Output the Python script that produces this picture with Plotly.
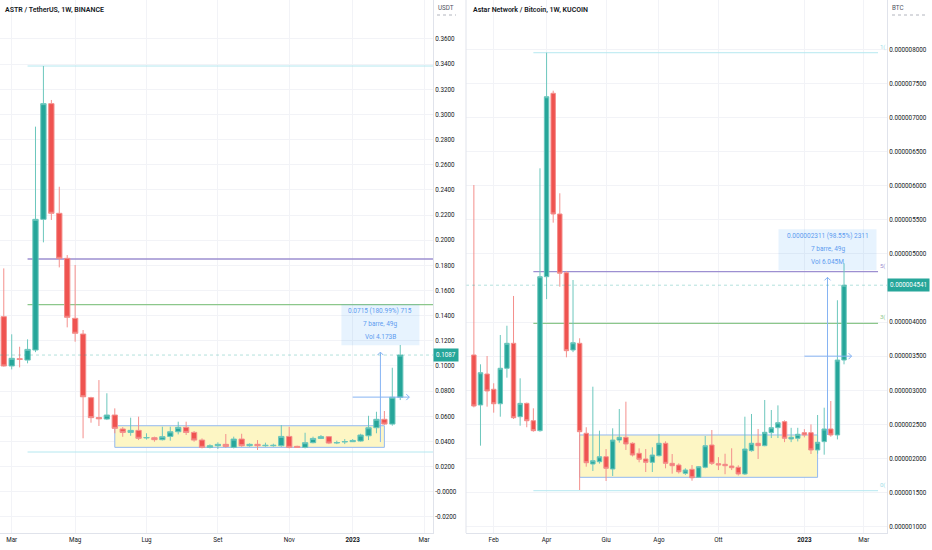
import pandas as pd
import plotly.graph_objects as go

# ASTR / TetherUS, 1W, BINANCE - weekly bars from 2022-02-28
usdt_start = "2022-02-28"
usdt_open = [0.1392, 0.1000, 0.1057, 0.1047, 0.1127, 0.2166, 0.3086, 0.2214, 0.1856, 0.1379,
             0.1254, 0.0748, 0.0590, 0.0578, 0.0610, 0.0499, 0.0472, 0.0488, 0.0428, 0.0430,
             0.0414, 0.0440, 0.0477, 0.0512, 0.0472, 0.0411, 0.0353, 0.0366, 0.0377, 0.0353,
             0.0419, 0.0366, 0.0377, 0.0366, 0.0366, 0.0366, 0.0440, 0.0361, 0.0353, 0.0390,
             0.0424, 0.0438, 0.0388, 0.0396, 0.0398, 0.0403, 0.0445, 0.0509, 0.0576, 0.0538,
             0.0751]
usdt_high = [0.1776, 0.1252, 0.1153, 0.1212, 0.2903, 0.3385, 0.3115, 0.2425, 0.1882, 0.1803,
             0.1286, 0.0755, 0.0888, 0.0783, 0.0663, 0.0514, 0.0589, 0.0597, 0.0465, 0.0438,
             0.0517, 0.0517, 0.0557, 0.0557, 0.0483, 0.0424, 0.0377, 0.0393, 0.0459, 0.0438,
             0.0461, 0.0385, 0.0411, 0.0390, 0.0382, 0.0530, 0.0517, 0.0366, 0.0469, 0.0438,
             0.0451, 0.0443, 0.0406, 0.0419, 0.0419, 0.0461, 0.0604, 0.0636, 0.0642, 0.0986,
             0.1167]
usdt_low = [0.0995, 0.0973, 0.0989, 0.1021, 0.1110, 0.1983, 0.2161, 0.1784, 0.1307, 0.1193,
            0.0425, 0.0549, 0.0523, 0.0570, 0.0465, 0.0437, 0.0445, 0.0411, 0.0415, 0.0398,
            0.0408, 0.0406, 0.0456, 0.0451, 0.0398, 0.0345, 0.0345, 0.0340, 0.0350, 0.0345,
            0.0358, 0.0358, 0.0332, 0.0358, 0.0358, 0.0358, 0.0345, 0.0348, 0.0345, 0.0385,
            0.0419, 0.0379, 0.0379, 0.0379, 0.0395, 0.0398, 0.0411, 0.0465, 0.0530, 0.0525,
            0.0729]
usdt_close = [0.1000, 0.1061, 0.1053, 0.1132, 0.2166, 0.3086, 0.2214, 0.1856, 0.1387, 0.1260,
              0.0755, 0.0589, 0.0580, 0.0610, 0.0504, 0.0472, 0.0488, 0.0425, 0.0431, 0.0414,
              0.0438, 0.0477, 0.0512, 0.0472, 0.0411, 0.0353, 0.0366, 0.0377, 0.0360, 0.0419,
              0.0366, 0.0377, 0.0366, 0.0369, 0.0369, 0.0440, 0.0353, 0.0353, 0.0390, 0.0424,
              0.0438, 0.0387, 0.0391, 0.0399, 0.0408, 0.0451, 0.0509, 0.0576, 0.0538, 0.0751,
              0.1087]

# Astar Network / Bitcoin, 1W, KUCOIN - weekly bars from 2022-01-17, values in 1e-6 BTC
btc_start = "2022-01-17"
btc_open = [3.518, 2.785, 3.239, 3.015, 2.803, 3.323, 3.689, 2.613, 2.809, 2.554,
            2.408, 4.666, 7.355, 5.585, 4.724, 3.591, 3.689, 2.370, 1.919, 1.953,
            2.026, 1.846, 2.271, 2.311, 2.223, 2.076, 1.993, 1.944, 2.041, 2.223,
            1.929, 1.904, 1.783, 1.841, 1.724, 1.871, 2.198, 1.924, 1.915, 1.890,
            1.871, 1.773, 2.115, 2.223, 2.188, 2.379, 2.452, 2.540, 2.286, 2.296,
            2.379, 2.379, 2.125, 2.247, 2.433, 2.345, 3.444]
btc_high = [6.010, 3.381, 3.503, 3.103, 3.811, 3.947, 4.383, 3.176, 2.820, 2.736,
            6.255, 7.950, 7.393, 5.889, 4.750, 4.617, 3.763, 2.458, 3.053, 2.408,
            2.139, 2.443, 2.726, 2.833, 2.237, 2.149, 2.139, 2.164, 2.359, 2.252,
            2.066, 1.929, 1.856, 1.904, 1.890, 2.330, 2.418, 2.020, 2.070, 2.150,
            1.900, 2.613, 2.653, 2.433, 2.858, 2.711, 2.779, 2.560, 2.450, 2.450,
            2.430, 2.500, 2.638, 2.745, 2.843, 4.320, 4.862]
btc_low = [2.750, 2.188, 2.760, 2.672, 2.613, 3.185, 2.579, 2.481, 2.458, 2.393,
           2.393, 4.337, 5.458, 4.519, 3.484, 3.560, 1.538, 1.880, 1.817, 1.925,
           1.670, 1.743, 2.232, 2.125, 2.030, 1.944, 1.802, 1.802, 2.030, 1.856,
           1.778, 1.780, 1.760, 1.674, 1.720, 1.856, 1.905, 1.830, 1.770, 1.830,
           1.750, 1.758, 2.100, 1.993, 2.180, 2.300, 2.300, 2.240, 2.240, 2.250,
           2.310, 2.066, 2.070, 2.056, 2.320, 2.280, 3.381]
btc_close = [2.770, 3.258, 2.990, 2.803, 3.323, 3.689, 2.598, 2.809, 2.554, 2.408,
             4.666, 7.305, 5.585, 4.716, 3.581, 3.698, 2.393, 1.938, 1.968, 2.026,
             1.856, 2.271, 2.311, 2.213, 2.051, 1.988, 1.944, 2.051, 2.223, 1.929,
             1.894, 1.806, 1.831, 1.718, 1.880, 2.188, 1.929, 1.905, 1.894, 1.865,
             1.773, 2.139, 2.223, 2.188, 2.384, 2.452, 2.525, 2.296, 2.311, 2.355,
             2.345, 2.125, 2.238, 2.433, 2.345, 3.444, 4.541]

# drawings: fib retracement, consolidation box, date/price range
usdt_fib = ("2022-03-21", "2023-03-21", 0.0316, 0.3385)
btc_fib = ("2022-03-21", "2023-03-21", 1.528, 7.950)
usdt_box = ("2022-06-06", "2023-01-30", 0.0353, 0.0525)
btc_box = ("2022-05-09", "2023-01-16", 1.724, 2.345)
usdt_range = ("2023-01-02", "2023-02-20", 0.0395, 0.1110)
btc_range = ("2023-01-02", "2023-02-20", 2.345, 4.656)
usdt_range_text = ["0.0715 (180.99%) 715", "7 barre, 49g", "Vol 4.173B"]
btc_range_text = ["0.000002311 (98.55%) 2311", "7 barre, 49g", "Vol 6.045M"]

# axis ticks
usdt_xticks = ["2022-03-07", "2022-05-02", "2022-07-04", "2022-09-05", "2022-11-07", "2023-01-02", "2023-03-06"]
usdt_xlabels = ["Mar", "Mag", "Lug", "Set", "Nov", "<b>2023</b>", "Mar"]
btc_xticks = ["2022-02-07", "2022-04-04", "2022-06-06", "2022-08-01", "2022-10-03", "2023-01-02", "2023-03-06"]
btc_xlabels = ["Feb", "Apr", "Giu", "Ago", "Ott", "<b>2023</b>", "Mar"]
usdt_yticks = [0.36, 0.34, 0.32, 0.30, 0.28, 0.26, 0.24, 0.22, 0.20, 0.18, 0.16, 0.14, 0.12,
               0.10, 0.08, 0.06, 0.04, 0.02, 0.0, -0.02]
usdt_ylabels = ["0.3600", "0.3400", "0.3200", "0.3000", "0.2800", "0.2600", "0.2400", "0.2200",
                "0.2000", "0.1800", "0.1600", "0.1400", "0.1200", "0.1000", "0.0800", "0.0600",
                "0.0400", "0.0200", "-0.0000", "-0.0200"]
btc_yticks = [8.0, 7.5, 7.0, 6.5, 6.0, 5.5, 5.0, 4.0, 3.5, 3.0, 2.5, 2.0, 1.5, 1.0]
btc_ylabels = ["0.000008000", "0.000007500", "0.000007000", "0.000006500", "0.000006000",
               "0.000005500", "0.000005000", "0.000004000", "0.000003500",
               "0.000003000", "0.000002500", "0.000002000", "0.000001500", "0.000001000"]

U = 1e-6
FONT = "Roboto"
GREEN, RED = "#26a69a", "#ef5350"
PW, PH = 887, 533  # plot area in pixels


def px(x):
    return x / PW


def py(y):
    return 1 - y / PH


def candles(start, o, h, l, c, xa, ya, k=1.0):
    dates = pd.date_range(start, periods=len(o), freq="7D")
    return go.Candlestick(
        x=dates, open=[v * k for v in o], high=[v * k for v in h],
        low=[v * k for v in l], close=[v * k for v in c], xaxis=xa, yaxis=ya,
        increasing=dict(fillcolor=GREEN, line=dict(color="#6cc7bd", width=1)),
        decreasing=dict(fillcolor=RED, line=dict(color="#f48f8c", width=1)),
        whiskerwidth=0, hoverinfo="skip", showlegend=False)


fig = go.Figure()
fig.add_trace(candles(usdt_start, usdt_open, usdt_high, usdt_low, usdt_close, "x", "y"))
fig.add_trace(candles(btc_start, btc_open, btc_high, btc_low, btc_close, "x2", "y2", U))

shapes, notes = [], []


def drawings(xr, yr, fib, box, rng, txt, k, box_w):
    x0, x1, lo, hi = fib
    lo, hi = lo * k, hi * k
    fibs = [(1.0, "#b5e8f0", 1), (0.5, "#9d8fd1", 1.3), (0.382, "#8cc78b", 1.2), (0.0, "#b5e8f0", 1)]
    for r, col, w in fibs:
        lev = lo + (hi - lo) * r
        shapes.append(dict(type="line", xref=xr, yref=yr, x0=x0, x1=x1, y0=lev, y1=lev,
                           line=dict(color=col, width=w), layer="between"))
    b0, b1, bl, bh = box
    shapes.append(dict(type="rect", xref=xr, yref=yr, x0=b0, x1=b1, y0=bl * k, y1=bh * k,
                       fillcolor="#fdf6c4", line=dict(color="#93b9f0", width=1), layer="between"))
    # date and price range tool
    d0, d1, p0, p1 = rng
    p0, p1 = p0 * k, p1 * k
    mid = pd.Timestamp(d0) + (pd.Timestamp(d1) - pd.Timestamp(d0)) / 2
    end = pd.Timestamp(d1) + pd.Timedelta(days=1)
    pm = (p0 + p1) / 2
    blue = "#86b4f3"
    shapes.append(dict(type="line", xref=xr, yref=yr, x0=mid, x1=mid, y0=p0, y1=p1,
                       line=dict(color=blue, width=1)))
    shapes.append(dict(type="line", xref=xr, yref=yr, x0=d0, x1=end, y0=pm, y1=pm,
                       line=dict(color=blue, width=1)))
    shapes.append(dict(type="path", xref=xr, yref=yr, xsizemode="pixel", ysizemode="pixel",
                       xanchor=mid, yanchor=p1, path="M -3,-3 L 0,0 L 3,-3",
                       line=dict(color=blue, width=1)))
    shapes.append(dict(type="path", xref=xr, yref=yr, xsizemode="pixel", ysizemode="pixel",
                       xanchor=end, yanchor=pm, path="M -3,-3 L 0,0 L -3,3",
                       line=dict(color=blue, width=1)))
    half = box_w / 2
    shapes.append(dict(type="rect", xref=xr, yref=yr, xsizemode="pixel", ysizemode="pixel",
                       xanchor=mid, yanchor=p1, x0=-half, x1=half, y0=7, y1=48,
                       fillcolor="rgba(33,150,243,0.11)", line=dict(width=0)))
    for t, dy in zip(txt, [41.5, 28.5, 15.5]):
        notes.append(dict(xref=xr, yref=yr, x=mid, y=p1, yshift=dy, text=t, showarrow=False,
                          font=dict(size=6.5, color="#5e9cf0"), xanchor="center", yanchor="middle"))


drawings("x", "y", usdt_fib, usdt_box, usdt_range, usdt_range_text, 1.0, 78)
drawings("x2", "y2", btc_fib, btc_box, btc_range, btc_range_text, U, 98)

# last price lines and tags
for xr, yr, last, tx, txt in [("x", "y", usdt_close[-1], 433, f"{usdt_close[-1]:.4f}"),
                              ("x2", "y2", btc_close[-1] * U, 887, f"{btc_close[-1] * U:.9f}")]:
    shapes.append(dict(type="line", xref=xr + " domain", yref=yr, x0=0, x1=1, y0=last, y1=last,
                       line=dict(color="rgba(38,166,154,0.35)", width=1, dash="dot")))
    notes.append(dict(xref="paper", yref=yr, x=px(tx), y=last, xanchor="left", yanchor="middle",
                      text=txt, showarrow=False, bgcolor=GREEN, borderpad=2,
                      font=dict(size=6.3, color="white")))

# fib level labels cut by the right price scale
x0, x1, lo, hi = btc_fib
for r, lab, col in [(1.0, "1(", "#9edde8"), (0.5, "5(", "#9d8fd1"), (0.382, "3(", "#8cc78b"), (0.0, "0(", "#9edde8")]:
    lev = (lo + (hi - lo) * r) * U
    notes.append(dict(xref="paper", yref="y2", x=px(887), y=lev, xanchor="right", yanchor="middle",
                      yshift=6, text=lab, showarrow=False, font=dict(size=6, color=col)))

# titles and currency labels
notes.append(dict(xref="paper", yref="paper", x=px(3), y=py(10), xanchor="left", yanchor="middle",
                  text="ASTR / TetherUS, 1W, BINANCE", showarrow=False,
                  font=dict(size=7, color="#131722", weight=600)))
notes.append(dict(xref="paper", yref="paper", x=px(471), y=py(10), xanchor="left", yanchor="middle",
                  text="Astar Network / Bitcoin, 1W, KUCOIN", showarrow=False,
                  font=dict(size=7, color="#131722", weight=600)))
notes.append(dict(xref="paper", yref="paper", x=px(436), y=py(8), xanchor="left", yanchor="middle",
                  text="USDT", showarrow=False, font=dict(size=6.3, color="#50535e")))
notes.append(dict(xref="paper", yref="paper", x=px(890), y=py(8), xanchor="left", yanchor="middle",
                  text="BTC", showarrow=False, font=dict(size=6.3, color="#50535e")))
for a, b in [(437, 456), (892, 927)]:
    shapes.append(dict(type="line", xref="paper", yref="paper", x0=px(a), x1=px(b), y0=py(15), y1=py(15),
                       line=dict(color="#b2b5be", width=1, dash="dot")))

# separator between the two panes
shapes.append(dict(type="line", xref="paper", yref="paper", x0=px(466), x1=px(466), y0=0, y1=1,
                   line=dict(color="#e0e3eb", width=1)))

grid = "#f2f3f7"
xcommon = dict(type="date", showgrid=True, gridcolor=grid, showline=True, linecolor="#e0e3eb",
               ticks="", zeroline=False, rangeslider=dict(visible=False),
               tickfont=dict(size=6.3, color="#131722"))
ycommon = dict(side="right", showgrid=True, gridcolor=grid, showline=True, linecolor="#e0e3eb",
               ticks="", zeroline=False, tickfont=dict(size=6.3, color="#131722"))

fig.update_layout(
    width=932, height=550,
    margin=dict(l=0, r=45, t=0, b=17),
    paper_bgcolor="white", plot_bgcolor="white",
    hovermode=False, showlegend=False,
    boxgap=0.33, boxgroupgap=0,
    font=dict(family=FONT, size=7, color="#131722"),
    xaxis=dict(xcommon, domain=[0, px(433)], anchor="y",
               range=["2022-02-24 16:00", "2023-03-13 22:00"],
               tickvals=usdt_xticks, ticktext=usdt_xlabels),
    xaxis2=dict(xcommon, domain=[px(466), 1], anchor="y2",
                range=["2022-01-08 16:00", "2023-03-30 12:00"],
                tickvals=btc_xticks, ticktext=btc_xlabels),
    yaxis=dict(ycommon, anchor="x", range=[-0.0328, 0.391],
               tickvals=usdt_yticks, ticktext=usdt_ylabels),
    yaxis2=dict(ycommon, anchor="x2", range=[0.9076 * U, 8.723 * U],
                tickvals=[v * U for v in btc_yticks], ticktext=btc_ylabels),
    shapes=shapes, annotations=notes,
)

fig.write_html("out.html", config={"displayModeBar": False},
               post_script="document.body.style.margin='0';")
